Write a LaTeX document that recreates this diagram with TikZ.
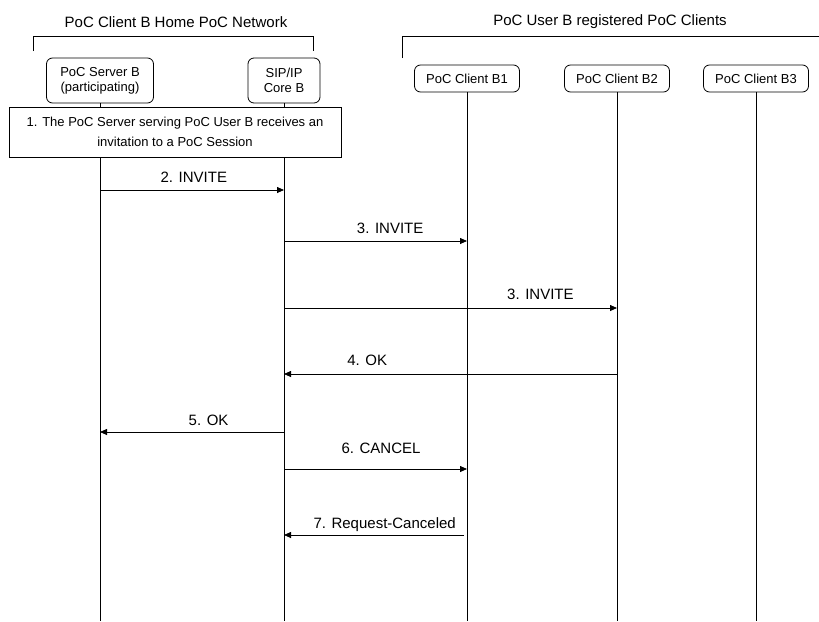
\documentclass[tikz,border=0pt]{standalone}
\usepackage{fontspec}
\setmainfont{Liberation Sans}
\usetikzlibrary{arrows.meta}

\begin{document}
\begin{tikzpicture}[x=1pt, y=-1pt, line width=0.8pt,
  box/.style={draw, rounded corners=6pt, align=center, inner sep=2pt, font=\fontsize{13}{15}\selectfont},
  notebox/.style={draw, fill=white, align=center, inner sep=2pt, font=\fontsize{13}{20}\selectfont},
  title/.style={font=\fontsize{15}{17}\selectfont},
  lbl/.style={font=\fontsize{15}{17}\selectfont, inner sep=0pt, anchor=base},
  msg/.style={-{Triangle[length=7pt,width=6pt]}}]
\useasboundingbox (0,0) rectangle (819,621);
\node[title] (homeT) at (176,22) {PoC Client B Home PoC Network};
\node[title] (regT) at (610,22) {PoC User B registered PoC Clients};
\draw (33,51) -- (33,36) -- (313,36) -- (313,51);
\draw (402,58) -- (402,36) -- (819,36);
\node[box, minimum width=107pt, minimum height=45pt] (srvB) at (100,80.5) {PoC Server B\\(participating)};
\node[box, minimum width=72pt, minimum height=45pt] (coreB) at (284,80.5) {SIP/IP\\Core B};
\node[box, minimum width=105pt, minimum height=27pt] (cB1) at (467,78.5) {PoC Client B1};
\node[box, minimum width=105pt, minimum height=27pt] (cB2) at (617,78.5) {PoC Client B2};
\node[box, minimum width=105pt, minimum height=27pt] (cB3) at (756,78.5) {PoC Client B3};
\foreach \n in {srvB,coreB,cB1,cB2,cB3}
  \draw (\n.south) -- (\n |- 0,621);
\node[notebox, minimum width=332pt, minimum height=50pt] (step1) at (175,132)
  {1. The PoC Server serving PoC User B receives an\\invitation to a PoC Session};
\draw[msg] (srvB |- 0,190) -- node[lbl, pos=.51, yshift=7.6pt] {2. INVITE} (coreB |- 0,190);
\draw[msg] (coreB |- 0,241) -- node[lbl, pos=.58, yshift=7.6pt] {3. INVITE} (cB1 |- 0,241);
\draw[msg] (coreB |- 0,308) -- node[lbl, pos=.77, yshift=8.6pt] {3. INVITE} (cB2 |- 0,308);
\draw[msg] (cB2 |- 0,374) -- node[lbl, pos=.75, yshift=8.6pt] {4. OK} (coreB |- 0,374);
\draw[msg] (coreB |- 0,432) -- node[lbl, pos=.41, yshift=6.6pt] {5. OK} (srvB |- 0,432);
\draw[msg] (coreB |- 0,469) -- node[lbl, pos=.53, yshift=15.6pt] {6. CANCEL} (cB1 |- 0,469);
\draw[msg, shorten <=3pt] (cB1 |- 0,535) -- node[lbl, pos=.45, yshift=6.6pt] {7. Request-Canceled} (coreB |- 0,535);
\end{tikzpicture}
\end{document}
